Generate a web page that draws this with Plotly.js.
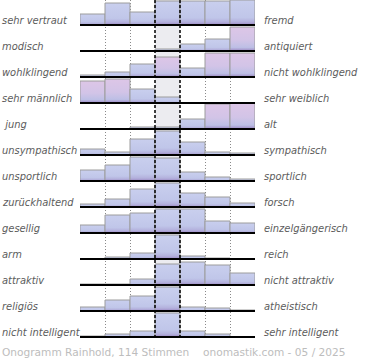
<!DOCTYPE html>
<html>
<head>
<meta charset="utf-8">
<script src="https://cdn.plot.ly/plotly-3.0.1.min.js"></script>
<style>html,body{margin:0;padding:0;background:#fff;}#chart{width:370px;height:360px;}</style>
</head>
<body>
<div id="chart"></div>
<script>
// Semantic differential: left / right poles
const leftLabels = ['sehr vertraut','modisch','wohlklingend','sehr männlich',' jung','unsympathisch','unsportlich','zurückhaltend','gesellig','arm','attraktiv','religiös','nicht intelligent'];
const rightLabels = ['fremd','antiquiert','nicht wohlklingend','sehr weiblich','alt','sympathisch','sportlich','forsch','einzelgängerisch','reich','nicht attraktiv','atheistisch','sehr intelligent'];
const scalePoints = [1, 2, 3, 4, 5, 6, 7];

// Bar heights per row (relative, full row = 26)
const vertraut     = [11, 22, 13, 24, 24, 24, 25];
const modisch      = [0, 0, 0, 2, 7, 12, 24];
const wohlklingend = [2, 5, 13, 20, 9, 24, 24];
const maennlich    = [22, 24, 14, 6, 0, 0, 0];
const jung         = [0, 0, 2, 2, 10, 25, 26];
const sympathisch  = [6, 3, 16, 24, 13, 3, 2];
const sportlich    = [11, 16, 24, 23, 9, 4, 2];
const forsch       = [3, 8, 18, 24, 14, 10, 4];
const gesellig     = [8, 18, 20, 24, 24, 12, 10];
const arm          = [0, 2, 6, 24, 3, 1, 0];
const attraktiv    = [1, 1, 6, 21, 23, 20, 12];
const religioes    = [4, 11, 15, 24, 4, 3, 1];
const intelligent  = [1, 3, 6, 24, 6, 3, 0];
const rows = [vertraut, modisch, wohlklingend, maennlich, jung, sympathisch, sportlich, forsch, gesellig, arm, attraktiv, religioes, intelligent];

// bars drawn in the pink tint: [row, column]
const pinkBars = [[1,6],[2,3],[2,5],[2,6],[3,0],[3,1],[4,5],[4,6]];

const ROW_H = 26;
const nRows = rows.length;
const baseOf = r => ROW_H * (nRows - 1 - r);

const traces = rows.map((vals, r) => ({
  type: 'bar',
  x: scalePoints.map(p => p - 1),
  y: vals.map(v => v > 0 ? v : null),
  base: baseOf(r),
  marker: { color: '#c3c9ea', line: { color: '#9c9c9c', width: 1 } },
  hoverinfo: 'none',
  showlegend: false
}));

const shapes = [
  { type: 'rect', xref: 'x', yref: 'paper', x0: 2.5, x1: 3.5, y0: 0, y1: 1, fillcolor: '#ececf0', line: { width: 0 }, layer: 'below' }
];
rows.forEach((_, r) => {
  shapes.push({ type: 'line', xref: 'x', yref: 'y', x0: -0.5, x1: 6.5, y0: baseOf(r), y1: baseOf(r), line: { color: '#000', width: 2 }, layer: 'above' });
});
[2.5, 3.5].forEach(x => shapes.push({ type: 'line', xref: 'x', yref: 'paper', x0: x, x1: x, y0: 0, y1: 1, line: { color: '#000', width: 1.5, dash: '3px,2px' }, layer: 'above' }));

const labelFont = { family: 'DejaVu Sans Condensed, DejaVu Sans', size: 11, color: '#5c5c5c' };
const annotations = [];
rows.forEach((_, r) => {
  annotations.push({ xref: 'paper', yref: 'y', x: 0, xshift: -80, y: baseOf(r) + 5, xanchor: 'left', yanchor: 'middle', text: '<i>' + leftLabels[r] + '</i>', showarrow: false, font: labelFont });
  annotations.push({ xref: 'paper', yref: 'y', x: 1, xshift: 7, y: baseOf(r) + 5, xanchor: 'left', yanchor: 'middle', text: '<i>' + rightLabels[r] + '</i>', showarrow: false, font: labelFont });
});
const footFont = { family: 'DejaVu Sans', size: 10.6, color: '#bdbdbd' };
annotations.push({ xref: 'paper', yref: 'paper', x: 0, xshift: -80, y: 0, yshift: -14, xanchor: 'left', yanchor: 'middle', text: 'Onogramm Rainhold, 114 Stimmen', showarrow: false, font: footFont });
annotations.push({ xref: 'paper', yref: 'paper', x: 1, xshift: 93, y: 0, yshift: -14, xanchor: 'right', yanchor: 'middle', text: 'onomastik.com - 05 / 2025', showarrow: false, font: footFont });

const layout = {
  width: 370, height: 360,
  margin: { l: 80, r: 115, t: 0, b: 22, pad: 0 },
  paper_bgcolor: '#fff', plot_bgcolor: '#fff',
  bargap: 0, barmode: 'overlay',
  xaxis: { range: [-0.5, 6.5], tickvals: [-0.5, 0.5, 1.5, 4.5, 5.5, 6.5], showticklabels: false, ticks: '', showgrid: true, gridcolor: '#8a8a8a', gridwidth: 1, griddash: '1px,2px', zeroline: false, showline: false, fixedrange: true },
  yaxis: { range: [-1, ROW_H * nRows - 1], showticklabels: false, ticks: '', showgrid: false, zeroline: false, showline: false, fixedrange: true },
  shapes: shapes,
  annotations: annotations,
  showlegend: false
};

Plotly.newPlot('chart', traces, layout, { staticPlot: true, displayModeBar: false }).then(gd => {
  const NS = 'http://www.w3.org/2000/svg';
  const svg = gd.querySelector('.main-svg');
  let defs = svg.querySelector('defs');
  if (!defs) { defs = document.createElementNS(NS, 'defs'); svg.insertBefore(defs, svg.firstChild); }
  function grad(id, stops) {
    const g = document.createElementNS(NS, 'linearGradient');
    g.setAttribute('id', id); g.setAttribute('x1', '0'); g.setAttribute('y1', '0'); g.setAttribute('x2', '0'); g.setAttribute('y2', '1');
    stops.forEach(([o, c]) => { const s = document.createElementNS(NS, 'stop'); s.setAttribute('offset', o); s.setAttribute('stop-color', c); g.appendChild(s); });
    defs.appendChild(g);
  }
  grad('gBlue', [[0, '#c9cfee'], [0.7, '#c0c6e9'], [0.88, '#b3b0dc'], [1, '#9b86c2']]);
  grad('gPink', [[0, '#ddc6e7'], [0.55, '#d2c4e7'], [0.85, '#bdbfe5'], [1, '#9b86c2']]);
  const pinkSet = new Set(pinkBars.map(([r, c]) => r + '_' + c));
  gd.querySelectorAll('.trace.bars').forEach((tr, r) => {
    tr.querySelectorAll('.point').forEach(pt => {
      const d = pt.__data__; const c = d ? d.i : 0;
      const path = pt.querySelector('path');
      if (path) path.style.fill = pinkSet.has(r + '_' + c) ? 'url(#gPink)' : 'url(#gBlue)';
    });
  });
});
</script>
</body>
</html>
